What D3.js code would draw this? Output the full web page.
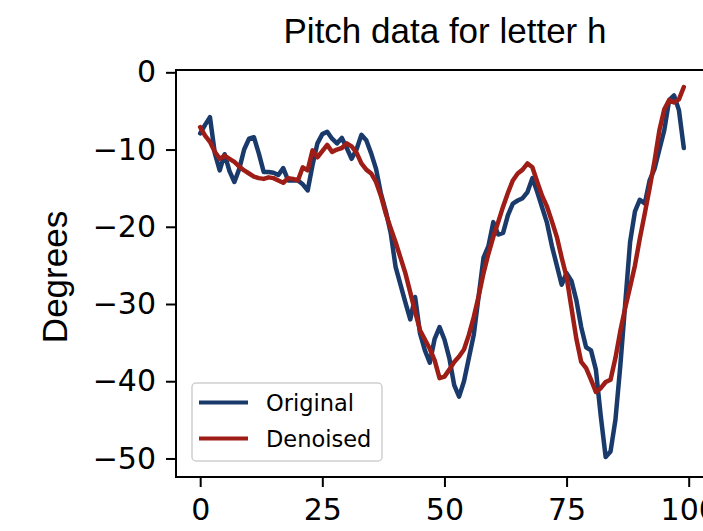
<!DOCTYPE html>
<html>
<head>
<meta charset="utf-8">
<script src="https://cdn.jsdelivr.net/npm/d3@7"></script>
<style>
    body { margin: 0; background: #fff; }
    svg { display: block; }
</style>
</head>
<body>
<div id="chart"></div>
<script>
// sample index 0..99
var samples = d3.range(0, 100);

// raw pitch readings
var original = [
    -7.9, -6.8, -5.8, -10.5, -12.7, -10.6, -12.8, -14.2, -12.5, -10.0,
    -8.6, -8.4, -10.5, -12.9, -12.9, -13.0, -13.3, -12.4, -14.0, -14.0,
    -14.0, -14.5, -15.3, -12.0, -9.2, -8.0, -7.7, -8.6, -9.2, -8.5,
    -9.8, -11.2, -10.0, -8.1, -8.8, -10.5, -12.5, -15.7, -18.0, -20.8,
    -25.2, -27.5, -29.8, -32.0, -29.1, -33.8, -36.0, -37.6, -34.5, -33.0,
    -34.6, -37.0, -40.5, -42.0, -40.0, -37.0, -34.0, -29.0, -24.0, -22.5,
    -19.4, -21.0, -20.8, -18.5, -17.0, -16.6, -16.3, -15.5, -13.7, -15.5,
    -17.5, -19.5, -22.5, -25.0, -27.5, -26.0, -27.0, -29.5, -33.0, -35.6,
    -36.0, -38.5, -44.5, -49.8, -49.1, -45.0, -38.0, -30.0, -22.0, -18.0,
    -16.5, -17.0, -14.0, -12.5, -10.0, -7.5, -3.6, -3.0, -4.9, -9.8
];

// smoothed pitch
var denoised = [
    -7.1, -8.2, -9.0, -10.3, -11.2, -10.8, -11.2, -11.6, -12.2, -12.7,
    -13.1, -13.5, -13.7, -13.8, -13.6, -13.7, -14.0, -14.3, -13.7, -13.8,
    -14.0, -12.3, -12.7, -10.1, -11.0, -10.2, -9.4, -10.3, -10.0, -9.8,
    -9.2, -9.6, -10.4, -11.8, -12.6, -13.1, -14.2, -16.0, -18.3, -20.2,
    -22.0, -24.0, -26.0, -28.5, -31.0, -33.4, -34.6, -35.8, -37.3, -39.6,
    -39.4, -38.5, -37.5, -36.8, -35.9, -34.0, -31.7, -29.0, -26.0, -23.5,
    -21.3, -19.4, -17.4, -15.6, -14.0, -13.1, -12.6, -11.8, -12.3, -14.2,
    -16.0, -17.4, -19.3, -21.3, -24.0, -26.5, -30.5, -34.5, -37.5, -38.3,
    -39.8, -41.4, -40.9, -40.1, -39.8, -37.0, -33.5, -30.5, -27.8, -25.0,
    -21.5, -18.3, -15.0, -11.5, -7.5, -4.8, -3.6, -3.9, -3.5, -1.9
];

var xTicks = [0, 25, 50, 75, 100];
var yTicks = [0, -10, -20, -30, -40, -50];
var seriesNames = ['Original', 'Denoised'];

(function(){
    'use strict';
    var WIDTH  = 703;
    var HEIGHT = 531;
    // plot box (right side runs off the canvas, like the reference)
    var LEFT = 176, TOP = 70, BOTTOM = 477, RIGHT = 708;
    var BLUE = '#1a3a6c';
    var RED  = '#9e1d16';
    var TICK_FONT = 'DejaVu Sans, sans-serif';
    var TITLE_FONT = 'Liberation Sans, Arial, sans-serif';

    var svg = d3.select('#chart').append('svg')
    .attr('width', WIDTH)
    .attr('height', HEIGHT);

    var x = d3.scaleLinear().domain([-4.95, 103.95]).range([LEFT, RIGHT]);
    var y = d3.scaleLinear().domain([-52.4, 0.3]).range([BOTTOM, TOP]);

    svg.append('clipPath').attr('id', 'plot-clip')
    .append('rect')
    .attr('x', LEFT).attr('y', TOP)
    .attr('width', RIGHT - LEFT).attr('height', BOTTOM - TOP);

    var line = d3.line()
    .x(function(d, i){ return x(samples[i]); })
    .y(function(d){ return y(d); });

    var plot = svg.append('g').attr('clip-path', 'url(#plot-clip)');

    // one path per series
    [[original, BLUE], [denoised, RED]].forEach(function(s){
        plot.append('path')
        .datum(s[0])
        .attr('d', line)
        .attr('fill', 'none')
        .attr('stroke', s[1])
        .attr('stroke-width', 4.5)
        .attr('stroke-linejoin', 'round')
        .attr('stroke-linecap', 'round');
    });

    // axes
    var xAxis = svg.append('g')
    .attr('transform', 'translate(0,' + BOTTOM + ')')
    .call(d3.axisBottom(x).tickValues(xTicks).tickSize(10).tickPadding(12).tickSizeOuter(0));

    var yAxis = svg.append('g')
    .attr('transform', 'translate(' + LEFT + ',0)')
    .call(d3.axisLeft(y).tickValues(yTicks).tickSize(10).tickPadding(10).tickSizeOuter(0));

    [xAxis, yAxis].forEach(function(ax){
        ax.select('.domain').remove();
        ax.selectAll('.tick line').attr('stroke', '#000').attr('stroke-width', 2);
        ax.selectAll('.tick text')
        .attr('fill', '#000')
        .style('font-family', TICK_FONT)
        .style('font-size', '30px');
    });

    // spines
    svg.append('rect')
    .attr('x', LEFT).attr('y', TOP)
    .attr('width', RIGHT - LEFT).attr('height', BOTTOM - TOP)
    .attr('fill', 'none')
    .attr('stroke', '#000')
    .attr('stroke-width', 2);

    // title + y label
    svg.append('text')
    .attr('x', 445).attr('y', 43)
    .attr('text-anchor', 'middle')
    .style('font-family', TITLE_FONT)
    .style('font-size', '35px')
    .text('Pitch data for letter h');

    svg.append('text')
    .attr('transform', 'translate(67,277) rotate(-90)')
    .attr('text-anchor', 'middle')
    .style('font-family', TITLE_FONT)
    .style('font-size', '35px')
    .text('Degrees');

    // legend
    var legend = svg.append('g').attr('transform', 'translate(192,383)');
    legend.append('rect')
    .attr('width', 190).attr('height', 78)
    .attr('rx', 4)
    .attr('fill', '#fff').attr('fill-opacity', 0.8)
    .attr('stroke', '#d0d0d0').attr('stroke-width', 1.5);

    var colors = [BLUE, RED];
    seriesNames.forEach(function(name, i){
        var ly = 19.5 + i * 36;
        legend.append('line')
        .attr('x1', 7).attr('x2', 56)
        .attr('y1', ly).attr('y2', ly)
        .attr('stroke', colors[i])
        .attr('stroke-width', 4);
        legend.append('text')
        .attr('x', 74).attr('y', ly)
        .attr('dy', '0.36em')
        .style('font-family', TICK_FONT)
        .style('font-size', '22.5px')
        .text(name);
    });
})();
</script>
</body>
</html>
